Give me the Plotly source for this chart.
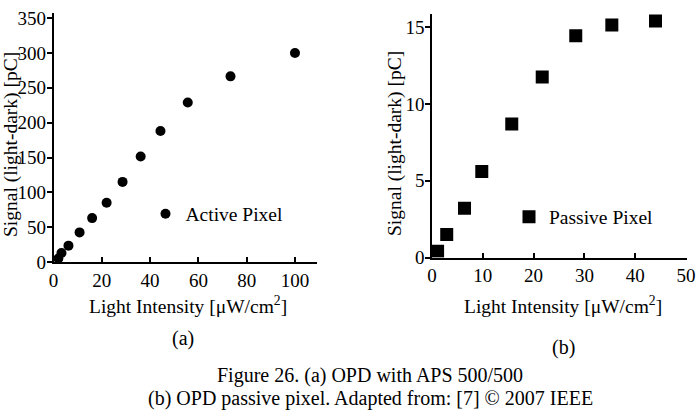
import plotly.graph_objects as go

# ---- data ----
active_x = [2.0, 3.3, 6.2, 10.8, 16.0, 22.0, 28.6, 36.1, 44.3, 55.6, 73.3, 100.0]
active_y = [5, 13, 23.5, 42.5, 63, 85, 115, 151.5, 188, 229, 266.5, 300]

passive_x = [1.1, 2.9, 6.4, 9.8, 15.7, 21.7, 28.3, 35.4, 44.0]
passive_y = [0.4, 1.5, 3.2, 5.6, 8.7, 11.75, 14.45, 15.15, 15.4]

left_xticks = [0, 20, 40, 60, 80, 100]
left_yticks = [0, 50, 100, 150, 200, 250, 300, 350]
right_xticks = [0, 10, 20, 30, 40, 50]
right_yticks = [0, 5, 10, 15]

x_title = "Light Intensity [μW/cm<sup>2</sup>]"
y_title = "Signal (light-dark) [pC]"
caption1 = "Figure 26. (a) OPD with APS 500/500"
caption2 = "(b) OPD passive pixel. Adapted from: [7] © 2007 IEEE"

W, H = 696, 410
FONT = "Liberation Serif"

def px(xp):
    return xp / W

def py(yp):
    return (H - yp) / H

fig = go.Figure()
fig.add_trace(go.Scatter(
    x=active_x, y=active_y, mode="markers", name="Active Pixel",
    marker=dict(symbol="circle", size=10, color="black"),
    xaxis="x", yaxis="y", legend="legend"))
fig.add_trace(go.Scatter(
    x=passive_x, y=passive_y, mode="markers", name="Passive Pixel",
    marker=dict(symbol="square", size=13, color="black"),
    xaxis="x2", yaxis="y2", legend="legend2"))

axis_common = dict(
    showline=True, linecolor="black", linewidth=1.5,
    showgrid=False, zeroline=False, automargin=False,
    tickcolor="black", tickwidth=1.5, ticklen=5,
    tickfont=dict(family=FONT, size=19, color="black"),
    fixedrange=True,
)

fig.update_layout(
    width=W, height=H,
    margin=dict(l=0, r=0, t=0, b=0, autoexpand=False),
    paper_bgcolor="white", plot_bgcolor="white",
    font=dict(family=FONT, size=19, color="black"),
    xaxis=dict(domain=[px(53.5), px(316.7)], range=[0, 109], anchor="y",
               tickvals=left_xticks, ticks="inside", **axis_common),
    yaxis=dict(domain=[py(262), py(13.3)], range=[0, 357], anchor="x",
               tickvals=left_yticks, ticks="outside", ticklabelstandoff=-3,
               **axis_common),
    xaxis2=dict(domain=[px(432), px(686.5)], range=[0, 50.1], anchor="y2",
                tickvals=right_xticks, ticks="inside", **axis_common),
    yaxis2=dict(domain=[py(257.5), py(14)], range=[0, 15.86], anchor="x2",
                tickvals=right_yticks, ticks="outside", ticklabelstandoff=-3,
                **axis_common),
    showlegend=True,
    legend=dict(x=px(167.5 - 22), y=py(214), xanchor="left", yanchor="middle",
                bgcolor="rgba(0,0,0,0)", borderwidth=0,
                font=dict(family=FONT, size=19.5, color="black"),
                itemwidth=30),
    legend2=dict(x=px(530 - 21), y=py(217), xanchor="left", yanchor="middle",
                 bgcolor="rgba(0,0,0,0)", borderwidth=0,
                 font=dict(family=FONT, size=19.5, color="black"),
                 itemwidth=30),
)

ann_font = dict(family=FONT, size=19.5, color="black")
cap_font = dict(family=FONT, size=20, color="black")
annotations = [
    dict(text=x_title, x=px(188), y=py(305), xref="paper", yref="paper",
         xanchor="center", yanchor="middle", showarrow=False, font=ann_font),
    dict(text=x_title, x=px(563), y=py(305), xref="paper", yref="paper",
         xanchor="center", yanchor="middle", showarrow=False, font=ann_font),
    dict(text=y_title, x=px(11), y=py(145), xref="paper", yref="paper",
         xanchor="center", yanchor="middle", showarrow=False, textangle=-90,
         font=ann_font),
    dict(text=y_title, x=px(395), y=py(144), xref="paper", yref="paper",
         xanchor="center", yanchor="middle", showarrow=False, textangle=-90,
         font=ann_font),
    dict(text="(a)", x=px(183), y=py(338), xref="paper", yref="paper",
         xanchor="center", yanchor="middle", showarrow=False, font=cap_font),
    dict(text="(b)", x=px(563), y=py(347), xref="paper", yref="paper",
         xanchor="center", yanchor="middle", showarrow=False, font=cap_font),
    dict(text=caption1, x=px(370), y=py(375), xref="paper", yref="paper",
         xanchor="center", yanchor="middle", showarrow=False, font=cap_font),
    dict(text=caption2, x=px(370), y=py(398), xref="paper", yref="paper",
         xanchor="center", yanchor="middle", showarrow=False, font=cap_font),
]
fig.update_layout(annotations=annotations)

fig.write_html("out.html", config={"displayModeBar": False})
